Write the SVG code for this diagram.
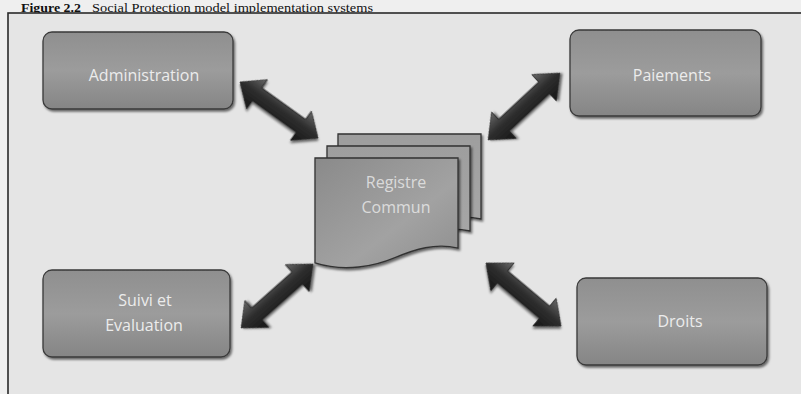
<svg xmlns="http://www.w3.org/2000/svg" width="801" height="394" viewBox="0 0 801 394">
<defs>
<linearGradient id="boxg" x1="0" y1="0" x2="0" y2="1">
<stop offset="0" stop-color="#8f8f8f"/>
<stop offset="0.5" stop-color="#9c9c9c"/>
<stop offset="1" stop-color="#858585"/>
</linearGradient>
<linearGradient id="docg" x1="0" y1="0" x2="1" y2="1">
<stop offset="0" stop-color="#8a8a8a"/>
<stop offset="0.6" stop-color="#a2a2a2"/>
<stop offset="1" stop-color="#8e8e8e"/>
</linearGradient>
<linearGradient id="docb" x1="0" y1="0" x2="0" y2="1">
<stop offset="0" stop-color="#9e9e9e"/>
<stop offset="1" stop-color="#a8a8a8"/>
</linearGradient>
<linearGradient id="arrg" x1="0" y1="0" x2="0" y2="1">
<stop offset="0" stop-color="#6a6a6a"/>
<stop offset="0.45" stop-color="#2e2e2e"/>
<stop offset="1" stop-color="#161616"/>
</linearGradient>
<filter id="sh" x="-20%" y="-20%" width="140%" height="140%">
<feDropShadow dx="1.5" dy="2" stdDeviation="1.2" flood-color="#000" flood-opacity="0.55"/>
</filter>
<polygon id="arrow" points="-48,0 -27,-18 -27,-8 27,-8 27,-18 48,0 27,18 27,8 -27,8 -27,18"/>
<path id="doc" d="M0,0 H143 V85 C120,80 100,86 80,94 C60,102 30,108 0,99 Z"/>
</defs>
<style>
.box{fill:url(#boxg);stroke:#3a3a3a;stroke-width:1.3;filter:url(#sh)}
.lbl{font-family:"Open Sans","Liberation Sans",sans-serif;font-size:16px;fill:#ececec;text-anchor:middle}
.arr{fill:url(#arrg);stroke:#222;stroke-width:0.8;filter:url(#sh)}
.docs{stroke:#333;stroke-width:1.3;filter:url(#sh)}
</style>
<rect x="0" y="0" width="801" height="394" fill="#efefef"/>
<text x="21" y="11.5" font-family="Liberation Serif,serif" font-size="12.5" font-weight="bold" fill="#111" textLength="60" lengthAdjust="spacingAndGlyphs">Figure 2.2</text>
<text x="92" y="11.5" font-family="Liberation Serif,serif" font-size="12.5" fill="#111" textLength="281" lengthAdjust="spacingAndGlyphs">Social Protection model implementation systems</text>
<rect x="8" y="13" width="800" height="400" fill="#e5e5e5" stroke="#2a2a2a" stroke-width="1.6"/>

<g id="connectors">
<use href="#arrow" class="arr" transform="translate(279,110) rotate(35.7)"/>
<use href="#arrow" class="arr" transform="translate(524,106.5) rotate(-42.9) scale(1.02,1)"/>
<use href="#arrow" class="arr" transform="translate(277,296) rotate(-41.6)"/>
<use href="#arrow" class="arr" transform="translate(523.5,294.5) rotate(40) scale(1.02,1)"/>
</g>

<g id="administration">
<rect class="box" x="43" y="32" width="190" height="77" rx="9"/>
<text class="lbl" x="144" y="81">Administration</text>
</g>
<g id="paiements">
<rect class="box" x="570" y="30" width="191" height="86" rx="9"/>
<text class="lbl" x="672" y="81">Paiements</text>
</g>
<g id="suivi">
<rect class="box" x="43" y="270" width="187" height="87" rx="9"/>
<text class="lbl" x="145" y="306">Suivi et</text>
<text class="lbl" x="144" y="331">Evaluation</text>
</g>
<g id="droits">
<rect class="box" x="577" y="278" width="190" height="87" rx="9"/>
<text class="lbl" x="680" y="327">Droits</text>
</g>
<g id="registre">
<use href="#doc" class="docs" fill="url(#docb)" transform="translate(338,134)"/>
<use href="#doc" class="docs" fill="url(#docb)" transform="translate(327,146)"/>
<use href="#doc" class="docs" fill="url(#docg)" transform="translate(315,158) scale(1,1.06)"/>
<text class="lbl" x="396" y="188" fill-opacity="0.8">Registre</text>
<text class="lbl" x="396" y="213" fill-opacity="0.8">Commun</text>
</g>
</svg>
